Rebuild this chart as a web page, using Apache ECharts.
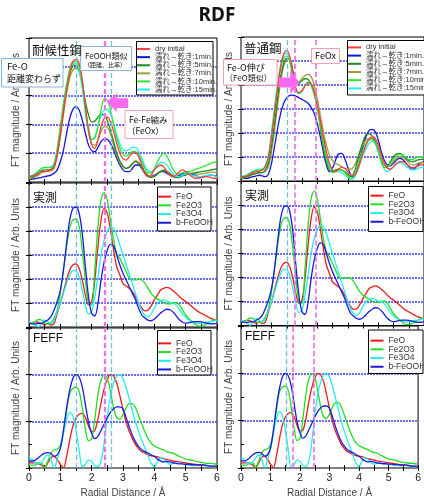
<!DOCTYPE html>
<html><head><meta charset="utf-8">
<script src="https://cdn.jsdelivr.net/npm/echarts@6/dist/echarts.min.js"></script>
<style>html,body{margin:0;padding:0;background:#fff}#c{width:424px;height:499px}</style>
</head><body><div id="c"></div>
<script>
// Radial distance (Å)
const radius = [
0,0.1,0.2,0.3,0.4,0.5,0.6,0.7,0.8,0.9,
1,1.1,1.2,1.3,1.4,1.5,1.6,1.7,1.8,1.9,
2,2.1,2.2,2.3,2.4,2.5,2.6,2.7,2.8,2.9,
3,3.1,3.2,3.3,3.4,3.5,3.6,3.7,3.8,3.9,
4,4.1,4.2,4.3,4.4,4.5,4.6,4.7,4.8,4.9,
5,5.1,5.2,5.3,5.4,5.5,5.6,5.7,5.8,5.9,6];

// 耐候性鋼
const wDry = [
0.19,0.21,0.24,0.30,0.36,0.36,0.39,0.42,0.53,1.00,
1.69,2.50,3.19,3.77,4.18,4.26,4.12,3.54,2.62,1.81,
1.28,1.17,1.46,1.92,2.21,2.25,2.09,1.75,1.34,1.00,
0.82,0.76,0.88,1.00,1.02,0.88,0.59,0.30,0.19,0.24,
0.42,0.53,0.59,0.53,0.36,0.24,0.19,0.24,0.36,0.42,
0.36,0.28,0.19,0.13,0.13,0.16,0.19,0.19,0.16,0.13,0.13];
const w1 = [
0.09,0.10,0.12,0.14,0.16,0.19,0.21,0.24,0.30,0.42,
0.71,1.11,1.69,2.21,2.52,2.62,2.50,2.15,1.69,1.28,
1.09,1.05,1.20,1.40,1.50,1.48,1.34,1.11,0.82,0.59,
0.42,0.36,0.36,0.47,0.59,0.59,0.47,0.30,0.19,0.19,
0.24,0.30,0.36,0.36,0.30,0.24,0.19,0.19,0.23,0.28,
0.30,0.30,0.28,0.23,0.19,0.16,0.19,0.22,0.24,0.23,0.21];
const w5 = [
0.13,0.16,0.23,0.30,0.39,0.42,0.42,0.44,0.53,1.00,
1.69,2.50,3.22,3.77,4.03,4.06,3.91,3.43,2.79,2.33,
2.09,2.12,2.25,2.35,2.33,2.13,1.81,1.40,1.02,0.73,
0.56,0.47,0.51,0.62,0.71,0.65,0.51,0.32,0.21,0.16,
0.19,0.28,0.36,0.39,0.36,0.27,0.19,0.15,0.16,0.21,
0.24,0.28,0.30,0.32,0.34,0.36,0.38,0.39,0.42,0.44,0.46];
const w7 = [
0.10,0.13,0.19,0.24,0.32,0.36,0.37,0.39,0.47,0.88,
1.55,2.33,3.08,3.60,3.89,3.95,3.83,3.31,2.50,1.75,
1.34,1.28,1.46,1.75,1.92,1.90,1.67,1.28,0.94,0.67,
0.53,0.47,0.53,0.65,0.74,0.67,0.53,0.36,0.24,0.19,
0.21,0.30,0.38,0.42,0.38,0.30,0.22,0.19,0.19,0.23,
0.28,0.30,0.30,0.28,0.27,0.28,0.30,0.32,0.34,0.34,0.32];
const w10 = [
0.13,0.19,0.28,0.36,0.47,0.51,0.50,0.51,0.59,1.11,
1.86,2.67,3.37,3.91,4.18,4.18,4.00,3.43,2.56,1.86,
1.48,1.52,1.92,2.50,2.87,2.85,2.50,1.98,1.52,1.17,
0.97,0.90,0.97,1.05,1.05,0.94,0.71,0.47,0.32,0.32,
0.47,0.71,0.90,1.00,0.90,0.67,0.44,0.30,0.28,0.32,
0.36,0.36,0.39,0.44,0.47,0.51,0.56,0.59,0.65,0.68,0.71];
const w15 = [
0.19,0.22,0.30,0.39,0.47,0.50,0.50,0.53,0.65,1.17,
1.92,2.71,3.37,3.87,4.10,4.12,3.89,3.25,2.38,1.75,
1.46,1.57,1.92,2.29,2.50,2.52,2.36,2.04,1.63,1.32,
1.13,1.09,1.13,1.20,1.20,1.05,0.82,0.56,0.39,0.36,
0.44,0.59,0.67,0.67,0.59,0.42,0.28,0.19,0.19,0.24,
0.28,0.28,0.24,0.21,0.19,0.19,0.21,0.23,0.24,0.22,0.19];

// 普通鋼
const cDry = [
0.18,0.18,0.21,0.29,0.35,0.39,0.40,0.46,0.60,1.01,
1.85,2.82,3.86,4.76,5.29,5.43,5.18,4.49,3.86,3.68,
3.76,3.96,4.10,4.07,3.72,3.17,2.54,1.85,1.22,0.74,
0.46,0.39,0.49,0.57,0.53,0.39,0.25,0.21,0.39,0.74,
1.15,1.50,1.74,1.85,1.78,1.50,1.08,0.74,0.53,0.49,
0.60,0.74,0.81,0.81,0.74,0.63,0.56,0.57,0.63,0.67,0.67];
const c1 = [
0.11,0.11,0.11,0.15,0.18,0.21,0.24,0.21,0.18,0.29,
0.74,1.43,2.19,2.82,3.24,3.47,3.57,3.58,3.54,3.47,
3.40,3.33,3.24,3.07,2.82,2.40,1.85,1.22,0.67,0.39,
0.53,0.88,1.13,1.15,0.94,0.57,0.25,0.18,0.46,0.94,
1.43,1.85,2.10,2.15,2.06,1.71,1.22,0.85,0.67,0.63,
0.74,0.88,0.94,0.90,0.76,0.60,0.49,0.53,0.67,0.76,0.81];
const c5 = [
0.11,0.15,0.18,0.24,0.29,0.32,0.35,0.35,0.46,0.74,
1.43,2.40,3.44,4.35,4.90,5.11,5.07,4.56,4.14,4.07,
4.18,4.26,4.24,4.00,3.72,3.10,2.26,1.43,0.81,0.46,
0.39,0.46,0.49,0.46,0.39,0.29,0.18,0.32,0.74,1.22,
1.64,1.92,1.96,1.88,1.64,1.22,0.81,0.57,0.60,0.81,
1.01,1.13,1.15,1.08,0.94,0.85,0.81,0.83,0.88,0.90,0.90];
const c7 = [
0.11,0.14,0.18,0.22,0.28,0.32,0.35,0.35,0.40,0.60,
1.22,2.13,3.17,4.14,4.79,5.07,5.11,4.63,4.21,4.14,
4.28,4.39,4.44,4.35,4.00,3.44,2.75,2.06,1.50,1.08,
0.85,0.74,0.67,0.60,0.53,0.49,0.49,0.60,0.88,1.22,
1.50,1.71,1.78,1.78,1.64,1.36,0.94,0.67,0.60,0.67,
0.81,0.94,1.01,1.01,0.90,0.76,0.67,0.67,0.74,0.76,0.76];
const c10 = [
0.15,0.18,0.25,0.32,0.39,0.43,0.46,0.49,0.60,0.94,
1.85,2.89,3.93,4.69,5.11,5.21,4.97,4.35,3.82,3.65,
3.75,3.96,4.07,3.96,3.58,3.03,2.33,1.57,0.94,0.53,
0.35,0.39,0.46,0.46,0.35,0.21,0.11,0.18,0.53,0.94,
1.29,1.57,1.71,1.71,1.57,1.22,0.81,0.57,0.57,0.74,
0.90,1.04,1.11,1.08,0.99,0.90,0.90,0.94,0.99,1.01,1.01];
const c15 = [
0.18,0.21,0.26,0.35,0.42,0.46,0.49,0.49,0.67,1.08,
2.06,3.10,4.07,4.83,5.25,5.32,5.04,4.35,3.79,3.63,
3.76,4.00,4.14,4.00,3.65,3.17,2.47,1.71,1.08,0.67,
0.46,0.39,0.39,0.35,0.25,0.15,0.07,0.11,0.39,0.74,
1.08,1.36,1.57,1.64,1.57,1.26,0.81,0.49,0.39,0.49,
0.60,0.71,0.76,0.74,0.63,0.53,0.46,0.46,0.53,0.57,0.57];

// 実測 (measured references)
const mFeO = [
0.15,0.18,0.22,0.19,0.15,0.08,0.15,0.08,0.15,0.57,
0.99,1.47,1.96,2.38,2.58,2.63,2.44,1.96,1.33,0.92,
1.06,1.96,3.35,4.46,4.94,4.74,4.04,3.21,2.51,2.17,
1.82,1.71,1.61,1.47,1.26,0.99,0.78,0.67,0.71,0.88,
1.13,1.33,1.54,1.61,1.65,1.61,1.51,1.40,1.26,1.15,
1.06,0.96,0.85,0.74,0.64,0.57,0.50,0.43,0.36,0.32,0.29];
const mFe2O3 = [
0.15,0.18,0.22,0.32,0.29,0.15,0.13,0.18,0.36,0.71,
1.40,2.38,3.35,4.11,4.46,4.49,4.18,3.21,1.96,0.99,
0.92,2.38,4.18,5.29,5.60,5.29,4.46,3.63,3.07,2.86,
2.58,2.31,2.03,1.96,1.96,1.99,1.96,1.82,1.61,1.40,
1.26,1.17,1.10,1.01,0.96,0.96,1.01,1.01,0.92,0.71,
0.50,0.36,0.22,0.13,0.04,0.04,0.08,0.15,0.22,0.29,0.32];
const mFe3O4 = [
0.22,0.15,0.08,0.01,0.15,0.29,0.22,0.15,0.29,0.64,
0.99,1.40,1.82,2.17,2.35,2.33,2.10,1.54,0.92,0.54,
0.64,1.26,2.10,3.00,3.63,4.00,4.17,4.11,3.83,3.42,
3.00,2.60,2.20,1.80,1.40,1.00,0.68,0.48,0.42,0.55,
0.80,1.00,1.10,1.13,1.08,1.02,1.00,0.90,0.74,0.55,
0.40,0.30,0.22,0.18,0.15,0.15,0.18,0.21,0.22,0.26,0.29];
const mFeOOH = [
0.15,0.13,0.13,0.15,0.15,0.22,0.29,0.43,0.71,1.06,
1.54,2.38,3.49,4.46,4.94,4.99,4.74,3.90,2.51,1.26,
0.57,0.46,0.99,1.96,2.72,3.21,3.44,3.38,3.00,2.58,
2.24,1.96,1.68,1.40,1.13,0.78,0.50,0.38,0.28,0.26,
0.33,0.45,0.58,0.68,0.74,0.72,0.62,0.46,0.30,0.20,
0.16,0.18,0.21,0.22,0.22,0.21,0.18,0.15,0.13,0.14,0.15];

// FEFF (calculated references)
const fFeO = [
0.11,0.11,0.11,0.09,0.06,0.01,0.11,0.22,0.25,0.18,
0.08,0.01,0.25,0.60,0.90,1.07,1.15,1.17,1.08,0.90,
0.78,0.80,1.05,1.40,1.70,1.90,2.00,1.97,1.82,1.55,
1.25,0.98,0.78,0.63,0.50,0.41,0.35,0.32,0.28,0.26,
0.25,0.24,0.22,0.20,0.18,0.17,0.15,0.14,0.13,0.12,
0.11,0.10,0.09,0.08,0.07,0.07,0.06,0.05,0.04,0.04,0.03];
const fFe2O3 = [
0.06,0.06,0.06,0.11,0.11,0.01,0.15,0.31,0.39,0.40,
0.49,0.77,1.22,1.60,1.71,1.73,1.64,1.29,0.84,0.58,
0.63,1.05,1.57,1.88,1.99,1.92,1.64,1.29,1.08,1.05,
1.15,1.29,1.38,1.38,1.29,1.12,0.94,0.77,0.63,0.53,
0.47,0.44,0.41,0.39,0.35,0.33,0.32,0.28,0.25,0.22,
0.19,0.18,0.17,0.15,0.13,0.12,0.11,0.10,0.10,0.09,0.08];
const fFe3O4 = [
0.22,0.18,0.11,0.08,0.13,0.22,0.28,0.18,0.01,0.18,
0.42,0.74,1.05,1.19,1.12,0.81,0.39,0.03,0.08,0.17,
0.14,0.05,0.03,0.15,0.55,1.12,1.55,1.82,1.97,2.00,
1.92,1.72,1.48,1.22,0.98,0.78,0.60,0.43,0.26,0.10,
0.03,0.14,0.22,0.18,0.12,0.08,0.10,0.11,0.10,0.09,
0.07,0.07,0.06,0.06,0.05,0.05,0.05,0.04,0.04,0.03,0.03];
const fFeOOH = [
0.15,0.15,0.17,0.22,0.28,0.32,0.33,0.31,0.25,0.28,
0.42,0.81,1.29,1.67,1.92,2.00,1.95,1.74,1.36,0.98,
0.74,0.63,0.68,0.81,0.94,1.08,1.19,1.27,1.31,1.31,
1.26,1.08,0.88,0.70,0.56,0.46,0.39,0.35,0.32,0.28,
0.25,0.19,0.15,0.13,0.14,0.13,0.11,0.10,0.09,0.09,
0.08,0.08,0.07,0.07,0.06,0.06,0.06,0.05,0.04,0.04,0.03];

const p1Names = ['dry initial','濡れ→乾き:1min.','濡れ→乾き:5min.','濡れ→乾き:7min.','濡れ→乾き:10min.','濡れ→乾き:15min.'];
const refNames = ['FeO','Fe2O3','Fe3O4','b-FeOOH'];
const guideLeft = [1.5, 2.41, 2.62];
const guideRight = [1.52, 1.76, 2.46];

const FONT_JP = '"Noto Sans CJK JP", sans-serif';
const FONT_LAT = '"Liberation Sans", Arial, "Noto Sans CJK JP", sans-serif';
const COL = {dry:'#ff3c3c', m1:'#1515e0', m5:'#1f8a1f', m7:'#a09a3a', m10:'#2ee82e', m15:'#22eeee',
  FeO:'#ee1c1c', Fe2O3:'#22dd22', Fe3O4:'#22eeee', FeOOH:'#1a1ae0', cy:'#6cc0dc', mg:'#f070f0'};

const grids = [
  {left:29, top:38, width:188, height:144},
  {left:241, top:37, width:188, height:144},
  {left:29, top:183, width:188, height:144},
  {left:241, top:181.5, width:188, height:144},
  {left:29, top:328, width:188, height:144},
  {left:241, top:326, width:188, height:144}
];
const yMax = [5,6,6,6,3,3];

const chart = echarts.init(document.getElementById('c'));
const xAxis = [], yAxis = [], series = [];
grids.forEach((g,i)=>{
  const bottom = i>=4;
  const tick = {inside:true, length:3, lineStyle:{color:'#000', width:1}};
  xAxis.push({type:'value', gridIndex:i, min:0, max:6, interval:0.5, axisLine:{show:false}, axisTick:tick,
    axisLabel:{show:bottom, formatter:v=> (Math.abs(v-Math.round(v))<1e-6 ? String(Math.round(v)) : ''), color:'#222', fontSize:10.5, fontFamily:FONT_LAT, margin:5},
    splitLine:{show:false}, name: bottom ? 'Radial Distance / Å' : '', nameLocation:'middle', nameGap:20,
    nameTextStyle:{fontSize:10, color:'#444', fontFamily:FONT_LAT}});
  xAxis.push({type:'value', gridIndex:i, position:'top', min:0, max:6, interval:0.5, axisLine:{show:false}, axisTick:tick,
    axisLabel:{show:false}, splitLine:{show:false}});
  yAxis.push({type:'value', gridIndex:i, min:0, max:yMax[i], interval:1, axisLine:{show:false}, axisTick:tick,
    minorTick:{show: i>=4, splitNumber:2, length:3, lineStyle:{color:'#000'}},
    axisLabel:{show:false},
    splitLine:{show:true, showMinLine:false, showMaxLine:false, lineStyle:{color:'#3c3ce6', type:[2,1], width:1.5}},
    name:'FT magnitude / Arb. Units', nameLocation:'middle', nameGap: (i%2===0 ? 8 : 7),
    nameTextStyle:{fontSize:10, color:'#444', fontFamily:FONT_LAT}});
  yAxis.push({type:'value', gridIndex:i, position:'right', min:0, max:yMax[i], interval:1, axisLine:{show:false}, axisTick:tick,
    axisLabel:{show:false}, splitLine:{show:false}});
});

function pts(arr){ return radius.map((r,k)=>[r, arr[k]]); }
function guides(list, right){
  const cols = right ? [COL.cy, COL.mg, COL.mg] : [COL.cy, COL.mg, COL.cy];
  const w = right ? [1.3,1.7,1.7] : [1.3,2.2,1.3];
  return {silent:true, symbol:'none', label:{show:false}, animation:false,
    data: list.map((x,k)=>({xAxis:x, lineStyle:{color:cols[k], type:[5,3], width:w[k]}}))};
}
function addSeries(i, name, arr, color, width, mark){
  const s = {type:'line', name, xAxisIndex:2*i, yAxisIndex:2*i, data:pts(arr), showSymbol:false, smooth:0.35,
    lineStyle:{color, width}, itemStyle:{color}, emphasis:{disabled:true}};
  if (mark) s.markLine = mark;
  series.push(s);
}
// panel 1 left (耐候性鋼)
addSeries(0, p1Names[1], w1, COL.m1, 1.3, guides(guideLeft,false));
addSeries(0, p1Names[3], w7, COL.m7, 1.3);
addSeries(0, p1Names[2], w5, COL.m5, 1.3);
addSeries(0, p1Names[5], w15, COL.m15, 1.3);
addSeries(0, p1Names[4], w10, COL.m10, 1.3);
addSeries(0, p1Names[0], wDry, COL.dry, 1.3);
// panel 1 right (普通鋼)
addSeries(1, p1Names[1], c1, COL.m1, 1.3, guides(guideRight,true));
addSeries(1, p1Names[3], c7, COL.m7, 1.3);
addSeries(1, p1Names[2], c5, COL.m5, 1.3);
addSeries(1, p1Names[5], c15, COL.m15, 1.3);
addSeries(1, p1Names[4], c10, COL.m10, 1.3);
addSeries(1, p1Names[0], cDry, COL.dry, 1.3);
// panels 2,3 both columns
[[2,false],[3,true]].forEach(([i,r])=>{
  addSeries(i, refNames[0], mFeO, COL.FeO, 1.3, guides(r?guideRight:guideLeft, r));
  addSeries(i, refNames[1], mFe2O3, COL.Fe2O3, 1.3);
  addSeries(i, refNames[2], mFe3O4, COL.Fe3O4, 1.3);
  addSeries(i, refNames[3], mFeOOH, COL.FeOOH, 1.3);
});
[[4,false],[5,true]].forEach(([i,r])=>{
  addSeries(i, refNames[0], fFeO, COL.FeO, 1.3, guides(r?guideRight:guideLeft, r));
  addSeries(i, refNames[1], fFe2O3, COL.Fe2O3, 1.3);
  addSeries(i, refNames[2], fFe3O4, COL.Fe3O4, 1.3);
  addSeries(i, refNames[3], fFeOOH, COL.FeOOH, 1.3);
});

function lg(left, top, names, fs, lh){
  return {left, top, orient:'vertical', data:names, icon:'rect', itemWidth:13, itemHeight:2, itemGap:0, padding:0,
    selectedMode:false, z:6, textStyle:{fontSize:fs, lineHeight:lh, color:'#333', fontFamily:FONT_LAT}};
}
const legend = [
  lg(137, 45, p1Names, 7.5, 8.1),
  lg(348, 43.3, p1Names, 7.5, 8.2),
  lg(158, 192.3, refNames, 8.5, 8.7),
  lg(370.5, 191.3, refNames, 8.5, 8.7),
  lg(158, 339, refNames, 8.5, 8.7),
  lg(370.5, 336.3, refNames, 8.5, 8.7)
];

function rect(x,y,w,h,stroke,z){ return {type:'rect', z:z||10, shape:{x,y,width:w,height:h}, style:{fill:'#fff', stroke, lineWidth:1}}; }
function txt(x,y,text,size,extra){
  return {type:'text', x, y, z:12, style:Object.assign({text, fontSize:size, fontFamily:FONT_JP, fill:'#111',
    align:'left', verticalAlign:'middle', textAlign:'left', textVerticalAlign:'middle'}, extra||{})};
}
const BLUEBOX = '#8ab4dc', PINKBOX = '#f2a2ac', ARROW = '#fa6af0';
const graphic = [
  txt(217, 16, 'RDF', 19, {fontWeight:'bold', align:'center', textAlign:'center', fontFamily:'"Noto Sans", "Liberation Sans", sans-serif'}),
  // legend frames
  rect(136.5, 41.5, 76.5, 53.5, '#000', 3),
  rect(347.5, 40.5, 80, 54.5, '#000', 3),
  rect(157.5, 187, 53.5, 44, '#000', 3),
  rect(368.5, 186.5, 54.5, 45, '#000', 3),
  rect(157.5, 330.5, 53.5, 44.5, '#000', 3),
  rect(368.5, 330, 54.5, 43.5, '#000', 3),
  // panel labels
  txt(32, 50, '耐候性鋼', 12.5),
  txt(244, 48.5, '普通鋼', 12.5),
  txt(33, 197, '実測', 12),
  txt(245, 195, '実測', 12),
  txt(33, 338.5, 'FEFF', 12, {fontFamily:FONT_LAT}),
  txt(245, 336.7, 'FEFF', 12, {fontFamily:FONT_LAT}),
  // annotations left
  rect(1.5, 58.5, 61.5, 28.5, BLUEBOX),
  txt(7, 66.5, 'Fe-O', 9.5),
  txt(7, 78.5, '距離変わらず', 9),
  rect(80.5, 46.5, 51, 24, BLUEBOX),
  txt(85, 56, 'FeOOH類似', 8),
  txt(84, 65, '（距離、比率）', 6),
  {type:'polygon', z:11, shape:{points:[[106.7,102],[116.7,93.3],[116.7,98.3],[128.3,98.3],[128.3,108],[116.7,108],[116.7,111.7]]}, style:{fill:ARROW}},
  rect(125, 110.5, 48, 28, PINKBOX),
  txt(129, 120, 'Fe-Fe縮み', 8.5),
  txt(127, 131, '（FeOx）', 8.5),
  // annotations right
  rect(223.5, 59.5, 53.5, 25.5, PINKBOX),
  txt(227, 67.5, 'Fe-O伸び', 9),
  txt(225, 78, '（FeO類似）', 8),
  {type:'polygon', z:11, shape:{points:[[278.7,77.5],[290.3,77.5],[290.3,70],[299.3,82.5],[290.3,94],[290.3,87.5],[278.7,87.5]]}, style:{fill:ARROW}},
  rect(311.5, 48.5, 28, 15, PINKBOX),
  txt(325.5, 56, 'FeOx', 9, {align:'center', textAlign:'center'})
];

chart.setOption({
  animation:false,
  backgroundColor:'#fff',
  grid: grids.map(g=>Object.assign({show:true, borderColor:'#000', borderWidth:1, backgroundColor:'transparent'}, g)),
  xAxis, yAxis, series, legend, graphic
});
</script>
</body></html>
